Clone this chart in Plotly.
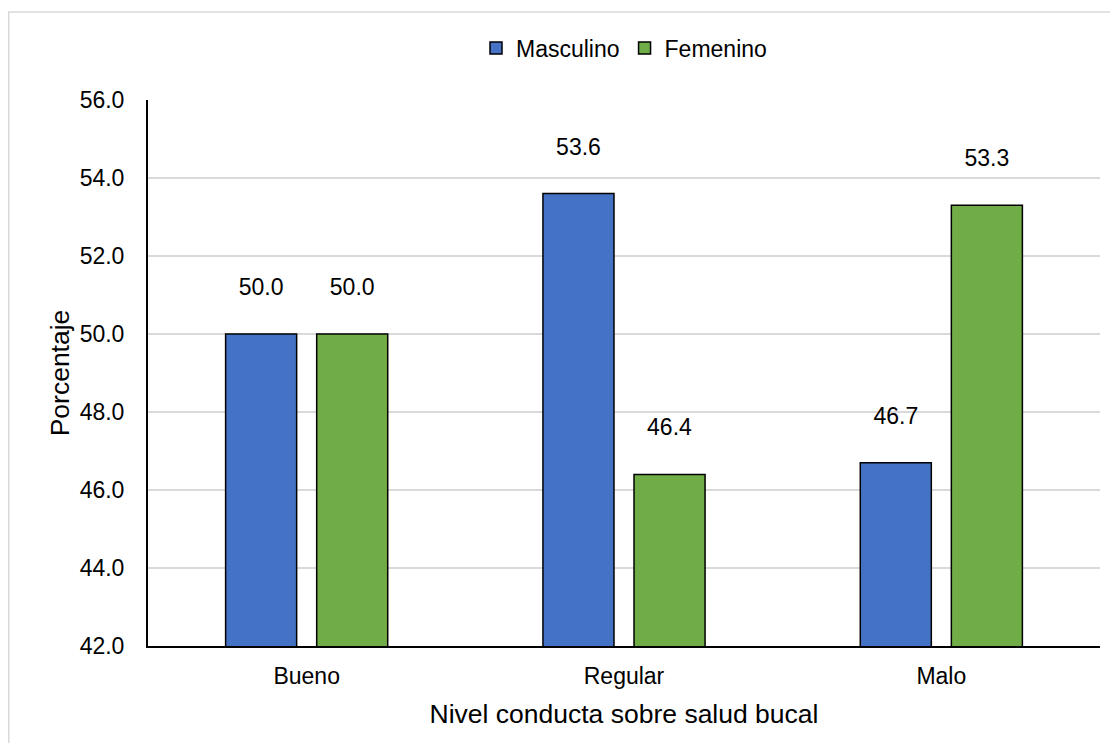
import plotly.graph_objects as go

categories = ["Bueno", "Regular", "Malo"]
masculino = [50.0, 53.6, 46.7]
femenino = [50.0, 46.4, 53.3]

FONT = "Liberation Sans, Arial, sans-serif"
TICK = 23
TITLE = 26.5
LABEL_TEMPLATE = "%{text}<br><span style='font-size:27px'> </span>"

fig = go.Figure()
fig.add_trace(go.Bar(
    name="Masculino", x=categories, y=masculino,
    marker=dict(color="#4472C4", line=dict(color="black", width=1.5)),
    text=[f"{v:.1f}" for v in masculino], texttemplate=LABEL_TEMPLATE, textposition="outside",
    textfont=dict(size=TICK, color="black", family=FONT), cliponaxis=False,
))
fig.add_trace(go.Bar(
    name="Femenino", x=categories, y=femenino,
    marker=dict(color="#70AD47", line=dict(color="black", width=1.5)),
    text=[f"{v:.1f}" for v in femenino], texttemplate=LABEL_TEMPLATE, textposition="outside",
    textfont=dict(size=TICK, color="black", family=FONT), cliponaxis=False,
))

# page body has an 8px margin; figure coordinates are screen - 8
W, H = 1102, 735
L, R, T, B = 140, 10, 92, 97
pw, ph = W - L - R, H - T - B

def px2paper_x(px):
    return (px - L) / pw

def px2paper_y(py):
    return (H - B - py) / ph

fig.update_layout(
    width=W, height=H,
    margin=dict(l=L, r=R, t=T, b=B),
    paper_bgcolor="white", plot_bgcolor="white",
    font=dict(family=FONT, color="black", size=TICK),
    barmode="group", bargap=0.426, bargroupgap=0.22,
    legend=dict(orientation="h", x=0.5, xanchor="center", y=px2paper_y(40), yanchor="middle",
                font=dict(size=TICK), itemwidth=30, traceorder="normal"),
    xaxis=dict(
        showline=True, linecolor="black", linewidth=2,
        ticks="", tickfont=dict(size=TICK), ticklabelstandoff=8,
        title=dict(text="Nivel conducta sobre salud bucal", font=dict(size=TITLE), standoff=17),
    ),
    yaxis=dict(
        range=[42, 56], dtick=2, tickformat=".1f",
        showline=True, linecolor="black", linewidth=2,
        showgrid=True, gridcolor="#d9d9d9", gridwidth=1.5,
        ticks="", tickfont=dict(size=TICK), zeroline=False, ticklabelstandoff=17,
        title=dict(text="Porcentaje", font=dict(size=TITLE), standoff=2),
    ),
    shapes=[dict(
        type="rect", xref="paper", yref="paper",
        x0=px2paper_x(0.75), x1=px2paper_x(W + 20), y0=px2paper_y(4), y1=px2paper_y(H + 20),
        line=dict(color="#d9d9d9", width=1.5), fillcolor="rgba(0,0,0,0)", layer="below",
    )],
)

fig.write_html("out.html")
